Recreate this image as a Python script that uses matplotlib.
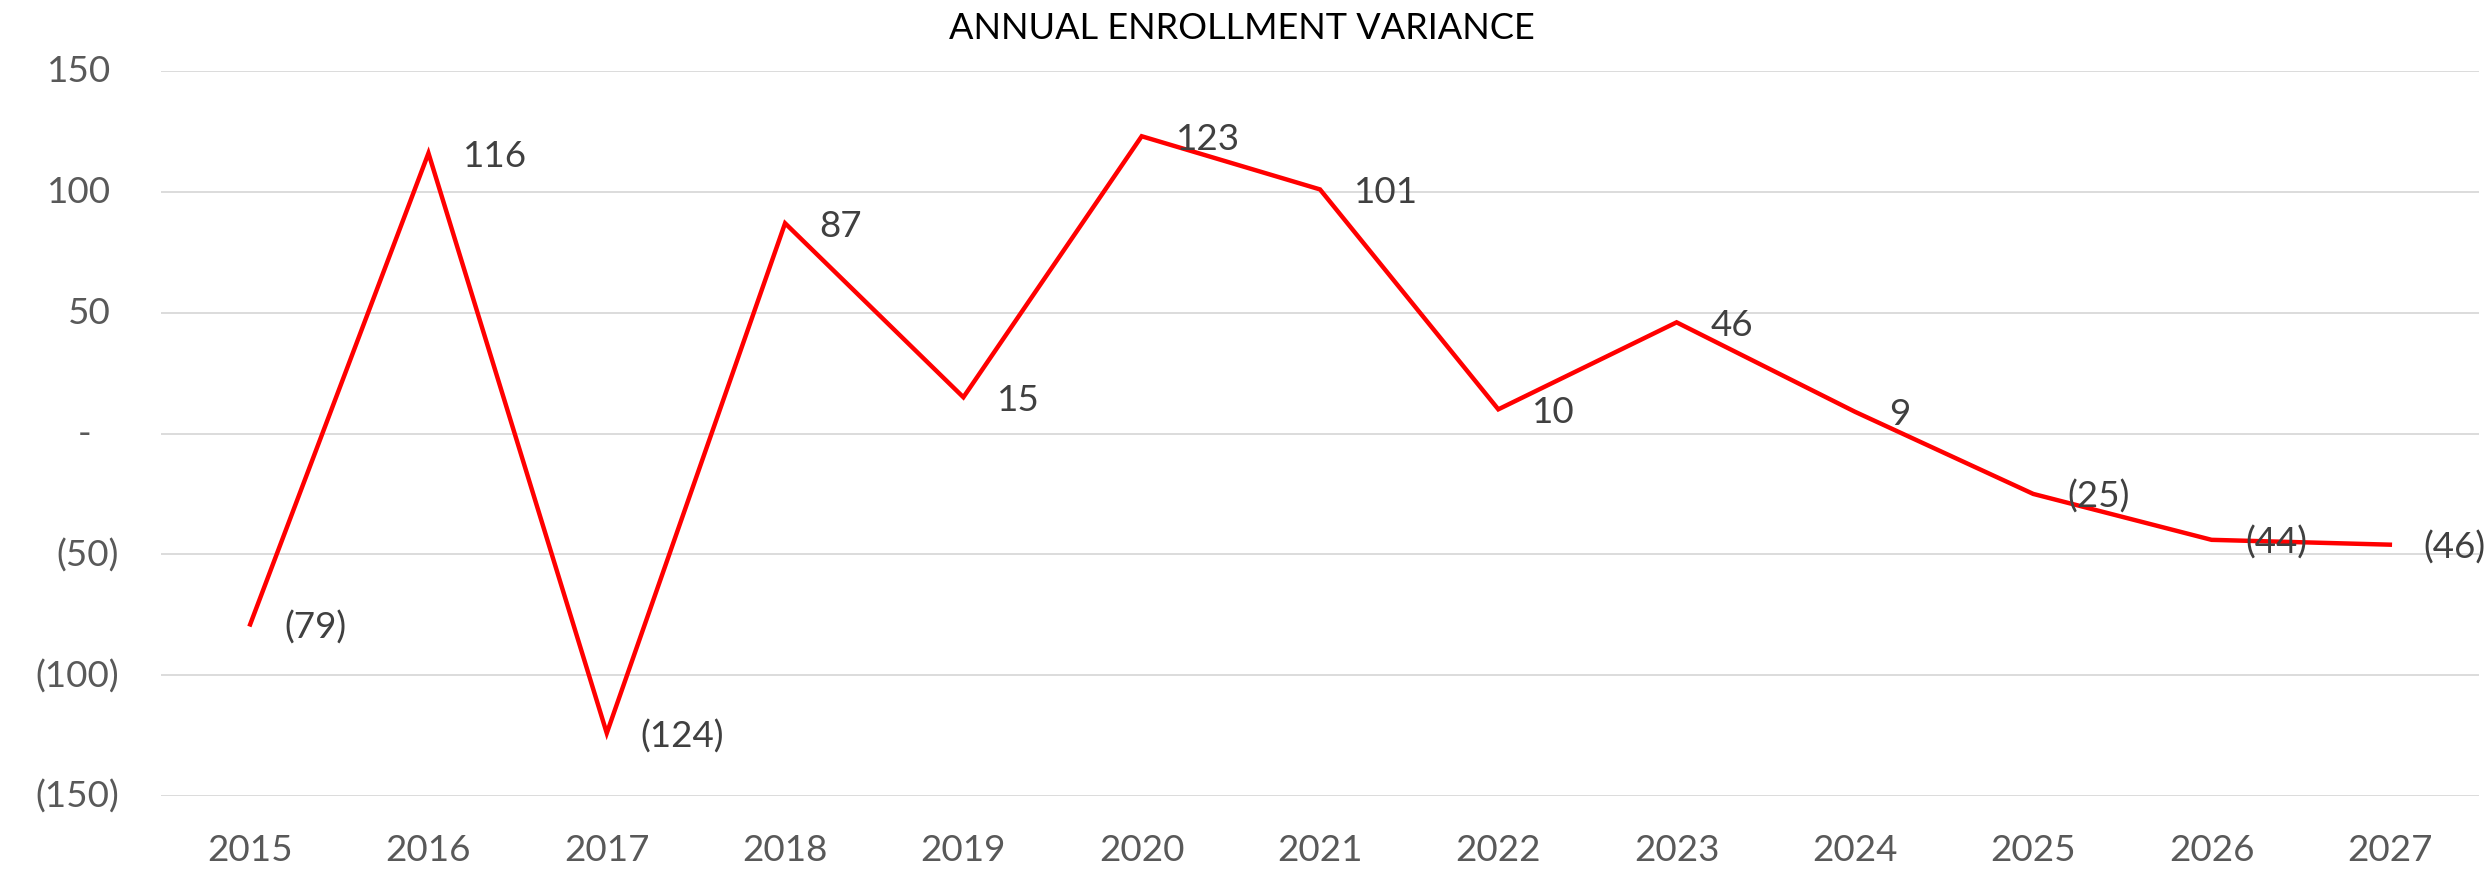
import numpy as np
import matplotlib
matplotlib.use("Agg")
import matplotlib.pyplot as plt

# datos
years = ["2015", "2016", "2017", "2018", "2019", "2020", "2021",
         "2022", "2023", "2024", "2025", "2026", "2027"]
variance = [-79, 116, -124, 87, 15, 123, 101, 10, 46, 9, -25, -44, -46]
ytick_values = [150, 100, 50, 0, -50, -100, -150]


def acct(v):
    # formato contable estilo Excel
    if v == 0:
        return "-"
    if v < 0:
        return "({:,.0f})".format(-v)
    return "{:,.0f}".format(v)


plt.rcParams["font.family"] = ["Lato", "DejaVu Sans"]

W, H, dpi = 2484, 879, 100
fig = plt.figure(figsize=(W / dpi, H / dpi), dpi=dpi)
left, right, top, bottom = 161, 2479, 72, 797
ax = fig.add_axes([left / W, 1 - bottom / H, (right - left) / W, (bottom - top) / H])

x = np.arange(len(years))
ax.plot(x, variance, color="#FF0000", linewidth=3.2, solid_joinstyle="miter", zorder=3)

for xi, v in zip(x, variance):
    ax.annotate(acct(v), xy=(xi, v), xytext=(34, -2), textcoords="offset pixels",
                ha="left", va="center", fontsize=26.5, color="#404040", zorder=4,
                annotation_clip=False)

ax.set_xlim(-0.5, len(years) - 0.5)
ax.set_ylim(-150, 150)

ax.set_yticks(ytick_values)
ax.yaxis.grid(True, color="#D9D9D9", linewidth=1.3)
ax.set_axisbelow(True)
ax.tick_params(axis="y", length=0, labelleft=False)
for v in ytick_values:
    if v == 0:
        dx = -70
    elif v < 0:
        dx = -42
    else:
        dx = -50
    ax.annotate(acct(v), xy=(0, v), xycoords=ax.get_yaxis_transform(),
                xytext=(dx, 0), textcoords="offset pixels", ha="right", va="center",
                fontsize=26.5, color="#595959", annotation_clip=False)

ax.set_xticks(x)
ax.set_xticklabels(years, fontsize=26.5, color="#595959")
ax.tick_params(axis="x", length=0, pad=27)

for s in ax.spines.values():
    s.set_visible(False)

fig.text(0.5, 1 - 28.5 / H, "ANNUAL ENROLLMENT VARIANCE", ha="center", va="center",
         fontsize=26, color="#000000")

fig.savefig("out.png", dpi=dpi)
